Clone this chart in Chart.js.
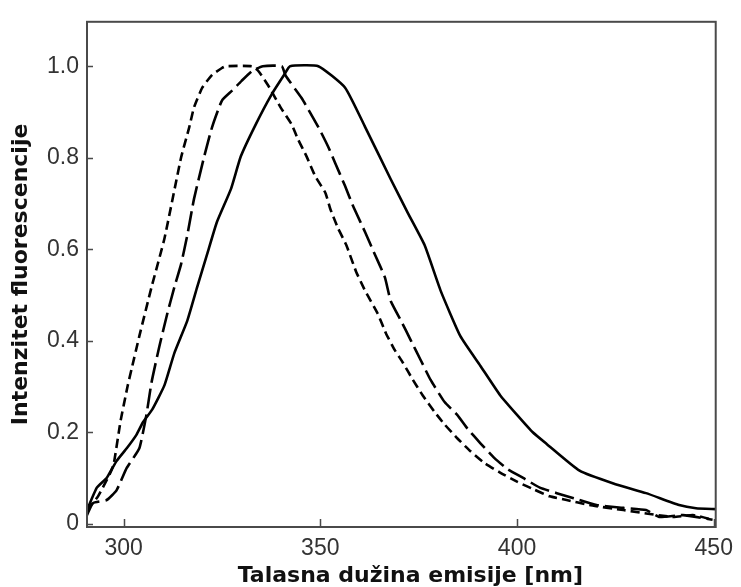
<!DOCTYPE html>
<html>
<head>
<meta charset="utf-8">
<script src="https://cdn.jsdelivr.net/npm/chart.js@4.4.1/dist/chart.umd.min.js"></script>
<style>
html,body{margin:0;padding:0;background:#fff;}
#wrap{width:741px;height:587px;position:relative;}
</style>
</head>
<body>
<div id="wrap"><canvas id="c" width="741" height="587"></canvas></div>
<script>
// Wavelength (nm) and normalized intensity for each curve
const shortDashX = [290.7,293.5,296.5,297.5,299.2,301,302,304,307.1,310.4,314.6,316.7,317.9,320,322.5,325,326,332.6,334.3,337.1,339.9,342.7,344.4,346.5,348.7,351.3,352.5,354.5,356.6,359.1,361.4,364.6,366.7,368.9,371,373.5,376,379,381.6,384.8,388.1,391.7,395.7,400,404.3,408.3,412.6,418.4,427,439.6,444.7,449.7];
const shortDashY = [0.03,0.06,0.109,0.131,0.223,0.3,0.337,0.41,0.517,0.624,0.80,0.867,0.91,0.953,0.981,0.996,1.0,1.0,0.989,0.953,0.91,0.873,0.839,0.803,0.76,0.723,0.689,0.646,0.609,0.551,0.509,0.459,0.416,0.38,0.352,0.315,0.281,0.245,0.217,0.187,0.159,0.133,0.112,0.092,0.075,0.06,0.052,0.041,0.03,0.015,0.019,0.009];

const longDashX = [290.7,292.2,295.7,298.2,300.8,304,305.8,307.1,309.1,311.1,312.9,314.6,316.2,317.9,320.5,322.5,325,327.5,330,332.6,335.4,340.2,341.2,345.2,349.5,352,353.8,356.3,358.3,361.4,363.9,366.4,367.9,370.5,373,375.5,378,381.6,384.8,387.4,390.7,394.2,397.5,401.8,405.8,410.1,414.4,420.2,425.3,432.8,436.1,442.2,449.7];
const longDashY = [0.019,0.045,0.052,0.073,0.122,0.165,0.238,0.309,0.388,0.459,0.517,0.567,0.631,0.71,0.803,0.867,0.925,0.946,0.968,0.989,1.0,1.0,0.979,0.931,0.867,0.824,0.788,0.738,0.695,0.637,0.588,0.539,0.487,0.444,0.401,0.358,0.315,0.266,0.238,0.208,0.176,0.144,0.12,0.099,0.079,0.067,0.056,0.041,0.036,0.03,0.015,0.019,0.009];

const solidX = [290.7,293.2,295.7,298.2,300.8,303.3,305,307.3,310.4,312.9,316.2,318.7,321.2,323.7,327.3,329.8,333.6,337.6,340.8,342.3,349.5,356.3,361.4,367.9,372.2,376.5,380.6,385.6,390.7,395.7,400,404,407.6,415.9,424.5,432.8,441.2,445.5,450.5];
const solidY = [0.03,0.079,0.1,0.137,0.165,0.195,0.223,0.25,0.303,0.373,0.444,0.517,0.588,0.659,0.732,0.803,0.873,0.938,0.981,1.0,1.0,0.953,0.867,0.753,0.68,0.609,0.509,0.41,0.345,0.281,0.238,0.2,0.174,0.116,0.088,0.067,0.041,0.034,0.032];

const xTicks = [300,350,400,450];
const yTicks = [0,0.2,0.4,0.6,0.8,1.0];
const yTickLabels = ['0','0.2','0.4','0.6','0.8','1.0'];
const xTitle = 'Talasna dužina emisije [nm]';
const yTitle = 'Intenzitet fluorescencije';

function pts(xs, ys){ return xs.map((x,i)=>({x:x, y:ys[i]})); }

const frameColor = '#4a4a4a';

const framePlugin = {
  id:'frame',
  afterDatasetsDraw(chart){
    const {ctx, chartArea:a, scales} = chart;
    ctx.save();
    ctx.strokeStyle = frameColor;
    ctx.lineWidth = 2;
    ctx.strokeRect(a.left, a.top, a.right-a.left, a.bottom-a.top);
    ctx.lineWidth = 1.5;
    ctx.beginPath();
    xTicks.forEach(v=>{
      const px = Math.round(scales.x.getPixelForValue(v))+0.5;
      ctx.moveTo(px, a.bottom); ctx.lineTo(px, a.bottom-8);
    });
    yTicks.forEach(v=>{
      const py = Math.round(scales.y.getPixelForValue(v))+0.5;
      ctx.moveTo(a.left, py); ctx.lineTo(a.left+6, py);
    });
    ctx.stroke();
    // x axis title, centred slightly right of the plot centre as in the reference
    ctx.fillStyle = '#111';
    ctx.font = 'bold 22px "DejaVu Sans"';
    ctx.textAlign = 'center';
    ctx.textBaseline = 'middle';
    ctx.fillText(xTitle, (a.left + a.right) / 2 + 9, chart.height - 11);
    ctx.restore();
  }
};

new Chart(document.getElementById('c'), {
  type:'line',
  data:{
    datasets:[
      {data:pts(shortDashX, shortDashY), borderColor:'#000', borderWidth:2.6, borderDash:[9,5], pointRadius:0, tension:0.15, fill:false},
      {data:pts(longDashX, longDashY), borderColor:'#000', borderWidth:2.6, borderDash:[20,6], pointRadius:0, tension:0.15, fill:false},
      {data:pts(solidX, solidY), borderColor:'#000', borderWidth:2.6, pointRadius:0, tension:0.15, fill:false}
    ]
  },
  options:{
    responsive:false,
    animation:false,
    events:[],
    layout:{padding:{top:13,right:22,left:0,bottom:0}},
    plugins:{legend:{display:false}, tooltip:{enabled:false}},
    scales:{
      x:{
        type:'linear', min:290.7, max:450.5,
        afterBuildTicks(s){ s.ticks = xTicks.map(v=>({value:v})); },
        afterFit(s){ s.height = 60; },
        grid:{display:false, drawTicks:false},
        border:{display:false},
        ticks:{color:'#333', padding:8, font:{family:'Liberation Sans', size:23}, callback:(v)=>String(v), maxRotation:0, autoSkip:false},
        title:{display:false}
      },
      y:{
        type:'linear', min:-0.007, max:1.097,
        afterBuildTicks(s){ s.ticks = yTicks.map(v=>({value:v})); },
        afterFit(s){ s.width = 87; },
        grid:{display:false, drawTicks:false},
        border:{display:false},
        ticks:{color:'#333', padding:8, font:{family:'Liberation Sans', size:23}, callback:(v)=>{const i=yTicks.findIndex(t=>Math.abs(t-v)<1e-9); return i>=0?yTickLabels[i]:'';}, autoSkip:false},
        title:{display:true, text:yTitle, color:'#111', font:{family:'DejaVu Sans', size:22, weight:'bold', lineHeight:1.0}, padding:{top:10,bottom:0}}
      }
    }
  },
  plugins:[framePlugin]
});
</script>
</body>
</html>
